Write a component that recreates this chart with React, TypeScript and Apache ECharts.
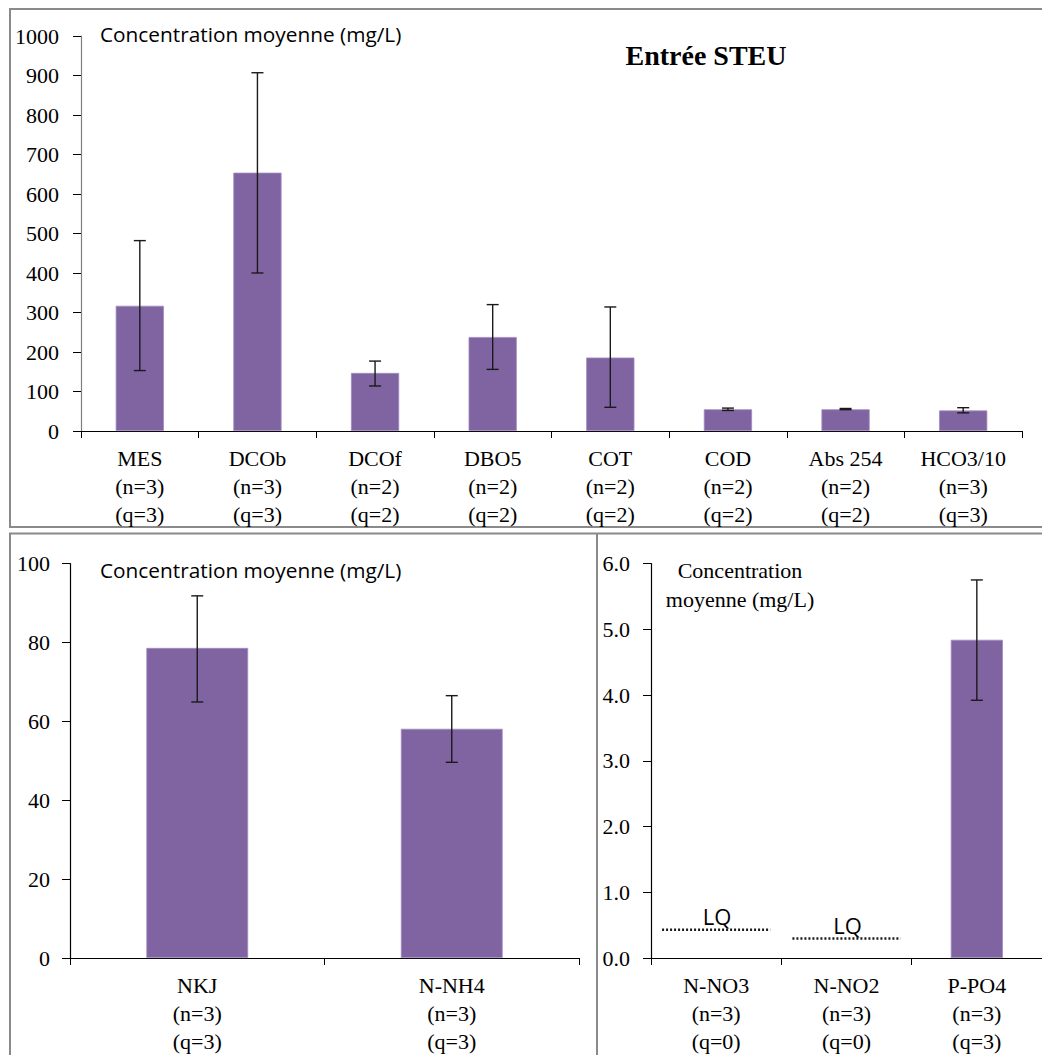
import React, { useEffect, useRef } from "react";
import * as echarts from "echarts";

// ---------- Data ----------
const topCategories = ["MES", "DCOb", "DCOf", "DBO5", "COT", "COD", "Abs 254", "HCO3/10"];
const topN = [3, 3, 2, 2, 2, 2, 2, 3];
const topQ = [3, 3, 2, 2, 2, 2, 2, 3];
const topMeans = [317, 654, 147, 238, 186, 55, 55, 52];
const topLow = [153, 400, 114, 156, 60, 52, 54, 46];
const topHigh = [482, 907, 177, 320, 314, 58, 57, 59];
const topTicks = { min: 0, max: 1000, interval: 100 };

const nCategories = ["NKJ", "N-NH4"];
const nN = [3, 3];
const nQ = [3, 3];
const nMeans = [78.6, 58.1];
const nLow = [64.9, 49.6];
const nHigh = [91.8, 66.5];
const nTicks = { min: 0, max: 100, interval: 20 };

const pCategories = ["N-NO3", "N-NO2", "P-PO4"];
const pN = [3, 3, 3];
const pQ = [0, 0, 3];
const pMeans: (number | null)[] = [null, null, 4.84];
const pLow: (number | null)[] = [null, null, 3.92];
const pHigh: (number | null)[] = [null, null, 5.75];
const lqValues: (number | null)[] = [0.43, 0.295, null];
const pTicks = { min: 0, max: 6, interval: 1 };

const yUnitLabel = "Concentration moyenne (mg/L)";
const yUnitLabelSplit = "Concentration\nmoyenne (mg/L)";
const chartTitle = "Entrée STEU";

// ---------- Styles ----------
const BAR = "#8064A2";
const SERIF = "Liberation Serif";
const SANS = "Open Sans";
const BORDER = "#8a8a8a";
const AXIS_FONT = 22;

const makeLabels = (cats: string[], n: number[], q: number[]) =>
  cats.map((c, i) => `${c}\n(n=${n[i]})\n(q=${q[i]})`);

const errData = (low: (number | null)[], high: (number | null)[]) =>
  low
    .map((l, i) => (l == null || high[i] == null ? null : [i, l, high[i]]))
    .filter((d) => d != null);

const errRender = (params: any, api: any) => {
  const x = api.value(0);
  const lo = api.coord([x, api.value(1)]);
  const hi = api.coord([x, api.value(2)]);
  const cap = 6;
  const style = { stroke: "#1a1a1a", lineWidth: 1.4 };
  return {
    type: "group",
    children: [
      { type: "line", shape: { x1: lo[0], y1: lo[1], x2: hi[0], y2: hi[1] }, style },
      { type: "line", shape: { x1: hi[0] - cap, y1: hi[1], x2: hi[0] + cap, y2: hi[1] }, style },
      { type: "line", shape: { x1: lo[0] - cap, y1: lo[1], x2: lo[0] + cap, y2: lo[1] }, style },
    ],
  };
};

const lqRender = (params: any, api: any) => {
  const x = api.value(0);
  const p = api.coord([x, api.value(1)]);
  const bw = api.size([1, 0])[0];
  const half = bw * 0.415;
  return {
    type: "group",
    children: [
      {
        type: "line",
        shape: { x1: p[0] - half, y1: p[1], x2: p[0] + half, y2: p[1] },
        style: { stroke: "#1a1a1a", lineWidth: 2.5, lineDash: [2, 2] },
      },
      {
        type: "text",
        x: p[0] + 1,
        y: p[1] - 3,
        style: {
          text: "LQ",
          fontFamily: SANS,
          fontSize: 22,
          fill: "#000",
          align: "center",
          verticalAlign: "bottom",
        },
      },
    ],
  };
};

const xAxisCommon = (gridIndex: number, data: string[]) => ({
  type: "category",
  gridIndex,
  data,
  axisLine: { lineStyle: { color: "#000", width: 1.2 } },
  axisTick: { show: true, length: 7, lineStyle: { color: "#000" } },
  axisLabel: {
    interval: 0,
    fontFamily: SERIF,
    fontSize: AXIS_FONT,
    color: "#000",
    lineHeight: 28,
    margin: 13,
  },
  splitLine: { show: false },
});

const yAxisCommon = (
  gridIndex: number,
  t: { min: number; max: number; interval: number },
  margin: number,
  fmt: (v: number) => string,
  lineColor = "#000"
) => ({
  type: "value",
  gridIndex,
  min: t.min,
  max: t.max,
  interval: t.interval,
  axisLine: { show: true, lineStyle: { color: lineColor, width: 1.2 } },
  axisTick: { show: true, length: 8, lineStyle: { color: "#000" } },
  axisLabel: {
    fontFamily: SERIF,
    fontSize: AXIS_FONT,
    color: "#000",
    margin,
    formatter: fmt,
  },
  splitLine: { show: false },
});

export default function App() {
  const ref = useRef<HTMLDivElement>(null);

  useEffect(() => {
    if (!ref.current) return;
    const chart = echarts.init(ref.current, undefined, { renderer: "svg" });

    const barStyle = { color: BAR, borderColor: "#a08cc0", borderWidth: 0.8 };

    chart.setOption({
      animation: false,
      backgroundColor: "#fff",
      textStyle: { fontFamily: SERIF },
      grid: [
        { left: 81, top: 36, width: 941, height: 395 },
        { left: 70, top: 563.5, width: 509, height: 395 },
        { left: 651, top: 563.5, width: 396, height: 395 },
      ],
      xAxis: [
        xAxisCommon(0, makeLabels(topCategories, topN, topQ)),
        xAxisCommon(1, makeLabels(nCategories, nN, nQ)),
        xAxisCommon(2, makeLabels(pCategories, pN, pQ)),
      ],
      yAxis: [
        yAxisCommon(0, topTicks, 22, (v: number) => String(v), "#7f7f7f"),
        yAxisCommon(1, nTicks, 20, (v: number) => String(v)),
        yAxisCommon(2, pTicks, 21, (v: number) => v.toFixed(1)),
      ],
      series: [
        {
          type: "bar",
          xAxisIndex: 0,
          yAxisIndex: 0,
          data: topMeans,
          barWidth: "41%",
          itemStyle: barStyle,
        },
        {
          type: "custom",
          xAxisIndex: 0,
          yAxisIndex: 0,
          data: errData(topLow, topHigh),
          renderItem: errRender,
          encode: { x: 0, y: [1, 2] },
          z: 5,
        },
        {
          type: "bar",
          xAxisIndex: 1,
          yAxisIndex: 1,
          data: nMeans,
          barWidth: "40%",
          itemStyle: barStyle,
        },
        {
          type: "custom",
          xAxisIndex: 1,
          yAxisIndex: 1,
          data: errData(nLow, nHigh),
          renderItem: errRender,
          encode: { x: 0, y: [1, 2] },
          z: 5,
        },
        {
          type: "bar",
          xAxisIndex: 2,
          yAxisIndex: 2,
          data: pMeans,
          barWidth: "40%",
          itemStyle: barStyle,
        },
        {
          type: "custom",
          xAxisIndex: 2,
          yAxisIndex: 2,
          data: errData(pLow, pHigh),
          renderItem: errRender,
          encode: { x: 0, y: [1, 2] },
          z: 5,
        },
        {
          type: "custom",
          xAxisIndex: 2,
          yAxisIndex: 2,
          data: lqValues
            .map((v, i) => (v == null ? null : [i, v]))
            .filter((d) => d != null),
          renderItem: lqRender,
          encode: { x: 0, y: 1 },
          z: 5,
        },
      ],
      graphic: [
        {
          type: "rect",
          silent: true,
          shape: { x: 10, y: 9, width: 1060, height: 518 },
          style: { fill: "none", stroke: BORDER, lineWidth: 2 },
        },
        {
          type: "rect",
          silent: true,
          shape: { x: 10, y: 533.5, width: 1060, height: 600 },
          style: { fill: "none", stroke: BORDER, lineWidth: 2 },
        },
        {
          type: "line",
          silent: true,
          shape: { x1: 597, y1: 533.5, x2: 597, y2: 1100 },
          style: { stroke: BORDER, lineWidth: 2 },
        },
        {
          type: "text",
          x: 706,
          y: 55,
          style: {
            text: chartTitle,
            fontFamily: SERIF,
            fontWeight: "bold",
            fontSize: 28,
            fill: "#000",
            align: "center",
            verticalAlign: "middle",
          },
        },
        {
          type: "text",
          x: 100,
          y: 34,
          style: {
            text: yUnitLabel,
            fontFamily: SANS,
            fontSize: 20.8,
            fill: "#000",
            align: "left",
            verticalAlign: "middle",
          },
        },
        {
          type: "text",
          x: 100,
          y: 570,
          style: {
            text: yUnitLabel,
            fontFamily: SANS,
            fontSize: 20.8,
            fill: "#000",
            align: "left",
            verticalAlign: "middle",
          },
        },
        {
          type: "text",
          x: 740,
          y: 556,
          style: {
            text: yUnitLabelSplit,
            fontFamily: SERIF,
            fontSize: 22,
            lineHeight: 29,
            fill: "#000",
            align: "center",
            verticalAlign: "top",
          },
        },
      ],
    });

    return () => chart.dispose();
  }, []);

  return (
    <div
      ref={ref}
      style={{ position: "absolute", left: 0, top: 0, width: 1042, height: 1055, overflow: "hidden" }}
    />
  );
}
